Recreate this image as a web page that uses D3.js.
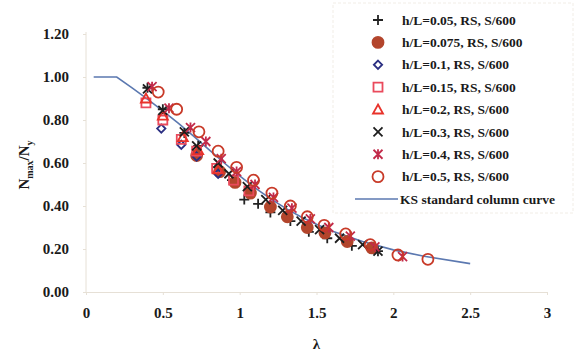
<!DOCTYPE html>
<html>
<head>
<meta charset="utf-8">
<script src="https://cdn.jsdelivr.net/npm/d3@7"></script>
<style>
  body { margin: 0; background: #fff; }
  svg { display: block; }
  text { font-family: "Liberation Serif", "Times New Roman", serif; font-weight: bold; fill: #1a1a1a; }
</style>
</head>
<body>
<script>
// values
const xTicks = [0, 0.5, 1, 1.5, 2, 2.5, 3];
const yTicks = [0, 0.2, 0.4, 0.6, 0.8, 1.0, 1.2];

const seriesNames = [
  'h/L=0.05, RS, S/600', 'h/L=0.075, RS, S/600', 'h/L=0.1, RS, S/600',
  'h/L=0.15, RS, S/600', 'h/L=0.2, RS, S/600', 'h/L=0.3, RS, S/600',
  'h/L=0.4, RS, S/600', 'h/L=0.5, RS, S/600'
];
const curveName = 'KS standard column curve';

const hl005 = [[0.40, 0.95], [0.50, 0.85], [0.64, 0.74], [0.73, 0.68], [0.86, 0.58], [0.95, 0.52],
  [1.03, 0.43], [1.12, 0.41], [1.20, 0.37], [1.33, 0.33], [1.45, 0.28], [1.57, 0.25], [1.73, 0.215], [1.90, 0.19]];
const hl0075 = [[0.72, 0.635], [0.87, 0.56], [0.97, 0.51], [1.07, 0.46], [1.20, 0.395], [1.31, 0.35],
  [1.44, 0.30], [1.555, 0.275], [1.70, 0.235], [1.86, 0.205]];
const hl01 = [[0.49, 0.76], [0.62, 0.685], [0.72, 0.63], [0.86, 0.55]];
const hl015 = [[0.39, 0.88], [0.50, 0.80], [0.62, 0.71], [0.72, 0.655], [0.85, 0.575], [0.96, 0.52], [1.06, 0.47]];
const hl02 = [[0.39, 0.90], [0.50, 0.82], [0.63, 0.72], [0.73, 0.66], [0.86, 0.57]];
const hl03 = [[0.40, 0.945], [0.50, 0.845], [0.64, 0.745], [0.72, 0.68], [0.86, 0.60], [0.93, 0.55],
  [1.05, 0.49], [1.17, 0.43], [1.28, 0.38], [1.40, 0.33], [1.52, 0.29], [1.65, 0.25], [1.80, 0.22], [1.90, 0.19]];
const hl04 = [[0.43, 0.955], [0.54, 0.855], [0.68, 0.765], [0.78, 0.70], [0.88, 0.62], [0.98, 0.56],
  [1.10, 0.50], [1.22, 0.44], [1.34, 0.39], [1.46, 0.34], [1.58, 0.30], [1.72, 0.26], [1.88, 0.21], [2.06, 0.165]];
const hl05 = [[0.47, 0.93], [0.59, 0.85], [0.735, 0.745], [0.86, 0.655], [0.98, 0.58], [1.09, 0.52],
  [1.21, 0.46], [1.33, 0.40], [1.44, 0.35], [1.55, 0.31], [1.69, 0.27], [1.85, 0.22], [2.03, 0.172], [2.225, 0.152]];

const ksCurve = [[0.05, 1.0], [0.2, 1.0], [0.3, 0.949], [0.4, 0.897], [0.5, 0.843], [0.6, 0.785],
  [0.7, 0.725], [0.8, 0.662], [0.9, 0.600], [1.0, 0.540], [1.1, 0.484], [1.2, 0.434], [1.3, 0.389],
  [1.4, 0.349], [1.5, 0.315], [1.6, 0.284], [1.8, 0.2345], [2.0, 0.196], [2.2, 0.166], [2.5, 0.132]];

const width = 576, height = 361;
const margin = {left: 86, right: 29, top: 34, bottom: 69};

const x = d3.scaleLinear().domain([0, 3]).range([margin.left, width - margin.right]);
const y = d3.scaleLinear().domain([0, 1.2]).range([height - margin.bottom, margin.top]);

const $svg = d3.select('body').append('svg').attr('width', width).attr('height', height);

// faint axes, as in the scanned figure
const axisColor = '#e6e0d6';
const xAxis = d3.axisBottom(x).tickValues(xTicks).tickFormat(d3.format('')).tickSize(3).tickPadding(12);
const yAxis = d3.axisLeft(y).tickValues(yTicks).tickFormat(d3.format('.2f')).tickSize(3).tickPadding(14);

const $xa = $svg.append('g').attr('transform', `translate(0, ${y(0)})`).call(xAxis);
const $ya = $svg.append('g').attr('transform', `translate(${x(0)}, 0)`).call(yAxis);
[$xa, $ya].forEach($a => {
  $a.selectAll('path, line').attr('stroke', axisColor);
  $a.selectAll('text').attr('font-size', 15).attr('font-family', '"Liberation Serif", serif')
    .attr('font-weight', 'bold').attr('fill', '#1a1a1a');
});
$ya.select('.domain').remove();
$svg.append('line').attr('x1', x(0)).attr('x2', x(0)).attr('y1', y(0)).attr('y2', y(1.2) - 2)
  .attr('stroke', axisColor);

// axis titles
$svg.append('text').attr('x', (x(0) + x(3)) / 2).attr('y', 349).attr('text-anchor', 'middle')
  .attr('font-size', 15).text('λ');

const $yl = $svg.append('text').attr('transform', 'translate(29, 165) rotate(-90)')
  .attr('text-anchor', 'middle').attr('font-size', 15);
$yl.append('tspan').text('N');
$yl.append('tspan').attr('font-size', 10).attr('dy', 4).text('max');
$yl.append('tspan').attr('dy', -4).text('/N');
$yl.append('tspan').attr('font-size', 10).attr('dy', 4).text('y');

// legend frame
$svg.append('rect').attr('x', 333).attr('y', 3).attr('width', 240).attr('height', 210)
  .attr('fill', 'none').attr('stroke', '#f1ede6').attr('stroke-dasharray', '3,2');

// KS column curve
const line = d3.line().x(d => x(d[0])).y(d => y(d[1]));
$svg.append('path').datum(ksCurve).attr('d', line)
  .attr('fill', 'none').attr('stroke', '#5b78b0').attr('stroke-width', 1.6);

// marker shapes
const markers = [
  {data: hl005, path: 'M-5,0H5M0,-5V5', fill: 'none', stroke: '#222'},
  {data: hl0075, circle: 5.5, fill: '#b3452c', stroke: '#b3452c'},
  {data: hl01, path: d3.symbol(d3.symbolDiamond2, 44)(), fill: 'none', stroke: '#2b2f82'},
  {data: hl015, path: 'M-4.5,-4.5H4.5V4.5H-4.5Z', fill: 'none', stroke: '#ea4a5c'},
  {data: hl02, path: 'M0,-5L5,4H-5Z', fill: 'none', stroke: '#e8322a'},
  {data: hl03, path: 'M-4.5,-4.5L4.5,4.5M-4.5,4.5L4.5,-4.5', fill: 'none', stroke: '#1e1e1e'},
  {data: hl04, path: 'M-4.5,-4.5L4.5,4.5M-4.5,4.5L4.5,-4.5M0,-5V5', fill: 'none', stroke: '#c22a4a'},
  {data: hl05, circle: 5.5, fill: 'none', stroke: '#c83a28'}
];

function drawMarker($g, m) {
  if (m.circle) {
    $g.append('circle').attr('r', m.circle).attr('fill', m.fill)
      .attr('stroke', m.stroke).attr('stroke-width', 1.8);
  } else {
    $g.append('path').attr('d', m.path).attr('fill', m.fill)
      .attr('stroke', m.stroke).attr('stroke-width', 1.8);
  }
}

markers.forEach(m => {
  $svg.append('g').selectAll('g').data(m.data).join('g')
    .attr('transform', d => `translate(${x(d[0])}, ${y(d[1])})`)
    .each(function () { drawMarker(d3.select(this), m); });
});

// legend
const legendY = d3.scalePoint().domain(seriesNames.concat([curveName])).range([20, 199]);
seriesNames.forEach((name, i) => {
  const $g = $svg.append('g').attr('transform', `translate(378, ${legendY(name)})`);
  drawMarker($g, markers[i]);
  $svg.append('text').attr('x', 402).attr('y', legendY(name)).attr('dy', '0.35em')
    .attr('font-size', 13.5).text(name);
});
$svg.append('line').attr('x1', 355).attr('x2', 398)
  .attr('y1', legendY(curveName)).attr('y2', legendY(curveName))
  .attr('stroke', '#5b78b0').attr('stroke-width', 1.6);
$svg.append('text').attr('x', 400).attr('y', legendY(curveName)).attr('dy', '0.35em')
  .attr('font-size', 13.5).text(curveName);
</script>
</body>
</html>
